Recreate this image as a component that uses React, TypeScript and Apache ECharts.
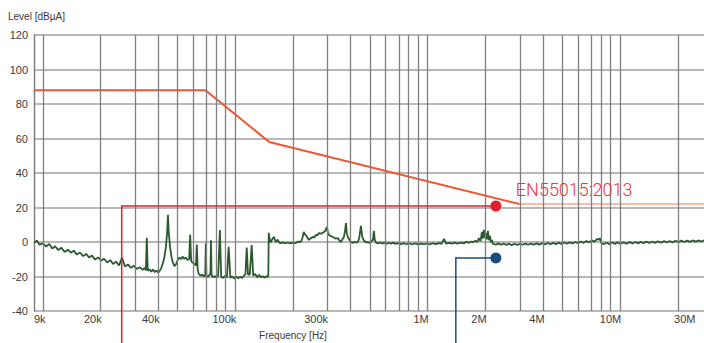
import React, { useEffect, useRef } from "react";
import * as echarts from "echarts";

// ---- data ----
const yMin = -40;
const yMax = 120;
const yStep = 20;
const xMinHz = 9e3;
const xMaxHz = 30e6;

// EN55015 limit (dBµA)
const limitFreqHz = [9e3, 70e3, 150e3, 3e6];
const limitLevel = [88, 88, 58, 22];
const limitTailFreqHz = [3e6, 30e6];
const limitTailLevel = [22, 22];

// vertical grid frequencies
const gridFreqHz = [
  10e3, 20e3, 30e3, 40e3, 50e3, 60e3, 70e3, 80e3, 90e3,
  100e3, 200e3, 300e3, 400e3, 500e3, 600e3, 700e3, 800e3, 900e3,
  1e6, 2e6, 3e6, 4e6, 5e6, 6e6, 7e6, 8e6, 9e6,
  10e6, 20e6, 30e6,
];

// x tick labels
const xLabelText = ["9k", "20k", "40k", "100k", "300k", "1M", "2M", "4M", "10M", "30M"];
const xLabelAnchorHz = [9e3, 20e3, 40e3, 100e3, 300e3, 1e6, 2e6, 4e6, 10e6, 20e6];
const xLabelAlign = ["left", "right", "right", "right", "right", "right", "right", "right", "right", "left"];

// measured trace: frequency (kHz) and level (dBµA)
const traceKHz = [
  9.0, 9.3, 9.6, 10.0, 10.4, 10.8, 11.2, 11.6, 12.0, 12.5, 13.0, 13.5, 14.0, 14.5, 15.0, 15.6,
  16.2, 16.8, 17.4, 18.0, 18.7, 19.4, 20.1, 20.8, 21.6, 22.4, 23.2, 24.0, 24.9, 25.8, 26.7, 27.7,
  28.7, 29.7, 30.8, 31.9, 33.0,
  33.8, 34.3, 34.7, 35.1, 35.8, 36.6, 37.4, 38.2, 39.0, 39.8, 40.6, 41.3, 42.0, 42.8, 43.6, 44.3,
  44.7, 45.1, 45.8, 46.6, 47.4, 48.3, 49.2, 50.2, 51.2, 52.2, 53.2, 54.3, 55.4, 56.5, 57.6, 58.3,
  59.0, 60.0, 61.2, 62.5, 63.1, 63.8, 64.6, 66.0, 67.5, 68.6, 69.8, 70.3, 70.8, 72.0, 73.5, 74.3,
  74.8, 75.3, 76.5, 78.0, 80.0, 81.5, 83.2, 84.5, 86.5, 88.5, 90.5, 92.4, 94.3, 96.5, 99.0, 101,
  103.5, 106, 108.5, 111, 113, 114.7, 116.5, 119, 121.7, 124, 127, 130, 133, 136, 139, 142, 145,
  147.5, 148.5, 149.3,
  151, 153, 156, 158.7, 161, 162.6, 166, 169, 172.6, 177, 182, 187, 193, 199, 205, 212, 219, 223,
  227, 230, 232.8, 237, 241.3, 247, 253, 257, 262, 267, 272, 280, 288.7, 294, 299, 303, 306.5, 314,
  321.5, 331, 341, 347, 354, 360, 367, 372, 375.8, 380, 384.7, 392, 399, 408, 418, 426, 433.6, 441,
  449.6, 457, 465.8, 477, 488.7, 500, 512, 519, 525.3, 531, 538, 552, 566, 580, 595, 610, 626, 644,
  662, 680, 700, 726, 750, 775, 800, 830, 860, 890, 922, 955, 990, 1025, 1060, 1100, 1140, 1180,
  1214, 1245, 1290, 1335, 1380, 1430, 1488, 1540, 1590, 1640, 1677, 1720, 1770, 1810, 1845, 1880,
  1914, 1935, 1959, 1983, 2007, 2030, 2056, 2080, 2105, 2130, 2157, 2180, 2208,
  2260, 2330, 2400, 2480, 2560, 2640, 2730, 2820, 2920, 3020, 3120, 3220, 3330, 3440, 3560, 3680,
  3800, 3930, 4060, 4200, 4340, 4480, 4630, 4790, 4950, 5120, 5290, 5470, 5650, 5840, 6040, 6240,
  6450, 6670, 6890, 7120, 7360, 7600, 7800, 7900, 7980, 8200, 8500, 8800, 9100, 9400, 9700, 10000,
  10400, 10800, 11200, 11600, 12000, 12400, 12800, 13200, 13700, 14200, 14700, 15200, 15700, 16300,
  16900, 17500, 18100, 18700, 19400, 20100, 20800, 21500, 22300, 23000, 23800, 24700, 25500, 26400,
  27300, 28300, 29300, 30000,
];
const traceLevel = [
  -0.5, 0.8, -1.5, -0.8, -2.6, -1.2, -3.8, -2.5, -4.6, -3.4, -5.8, -4.5, -6.2, -5.0, -7.3, -6.1,
  -8.2, -6.9, -9.0, -7.8, -10.2, -8.9, -10.8, -9.7, -11.9, -10.5, -12.8, -11.4, -13.6, -9.0, -14.2, -13.0,
  -15.0, -13.8, -15.6, -14.6, -16.2,
  -15.0, -16.5, 2.5, -16.8, -15.8, -17.2, -16.0, -17.5, -16.4, -17.8, -16.5, -15.0, -12.5, -9.0, -3.0, 6.0,
  15.8, 6.0, -2.5, -8.5, -12.0, -14.0, -13.0, -10.5, -9.0, -10.0, -8.5, -9.8, -9.0, -10.5, -9.8, 4.2,
  -11.0, -12.0, -12.5, -13.8, -1.5, -16.0, -18.5, -19.5, -18.8, -20.0, -19.5, -0.8, -19.5, -20.2, -19.0, -18.5,
  1.0, -19.0, -20.5, -19.8, -20.5, -19.5, 7.0, -20.2, -20.8, -19.6, -20.5, -2.8, -20.8, -20.0, -21.2, -20.0,
  -21.0, -20.2, -20.8, -19.6, -18.5, -3.2, -19.0, -18.8, -1.8, -19.5, -18.5, -20.5, -19.0, -20.5, -19.8, -20.8, -19.8,
  -20.3, -19.0, 5.3,
  1.5, -0.2, 1.8, 3.0, 1.0, 0.0, 1.4, -0.3, -0.6, -0.2, -0.9, -0.3, -0.8, -0.4, -0.7, 0.2, 0.0, 2.0,
  5.8, 4.5, 4.0, 2.6, 1.2, 2.2, 3.0, 2.4, 4.1, 3.8, 5.2, 4.8, 5.8, 6.5, 8.7, 5.5, 4.1, 3.4,
  2.9, 2.0, 2.3, 1.0, 0.0, 1.5, 2.9, 6.5, 11.0, 5.0, 2.9, 1.2, 0.0, -0.5, 0.2, -0.4, 0.0, 2.5,
  9.3, 3.0, 1.0, -0.2, 0.0, -0.6, 0.8, 1.2, 6.4, 1.0, -0.2, -0.8, -0.3, -0.9, -0.4, -1.0, -0.5, -0.9,
  -0.4, -1.1, -0.6, -1.2, -0.7, -1.3, -0.8, -1.3, -0.8, -1.4, -0.9, -1.3, -0.8, -1.4, -0.7, -1.2, -0.6, -1.1,
  1.8, -0.9, -0.5, -1.0, -0.4, -0.9, -0.3, -0.8, 0.2, -0.5, 0.3, -0.2, 0.8, 0.0, 2.3, 0.5,
  5.8, 2.0, 7.0, 2.5, 5.2, 1.5, 6.4, 1.0, 3.5, -0.2, 1.2, -1.0, -1.2,
  -1.5, -0.8, -1.6, -0.9, -1.7, -1.0, -1.8, -1.1, -1.7, -1.0, -1.6, -0.9, -1.6, -0.9, -1.5, -0.8,
  -1.5, -0.7, -1.4, -0.6, -1.3, -0.5, -1.2, -0.4, -1.1, -0.3, -1.0, -0.2, -0.9, 0.0, -0.7, 0.3,
  -0.5, 0.6, -0.2, 0.9, 0.2, 1.8, 1.2, 2.3, -0.6, -1.3, -0.4, -1.2, -0.3, -1.1, -0.2, -1.0,
  -0.2, -1.0, -0.1, -0.9, 0.0, -0.8, 0.1, -0.7, 0.2, -0.6, 0.3, -0.5, 0.4, -0.4,
  0.5, -0.3, 0.6, -0.2, 0.7, -0.1, 0.8, 0.0, 0.8, 0.1, 0.9, 0.2, 0.9, 0.3,
  1.0, 0.3, 1.0, 0.5,
];

// callouts
const redCallout = { freqHz: 2.26e6, level: 20.8, cornerFreqHz: 25.7e3, text: "EN55015:2013" };
const blueCallout = { freqHz: 2.26e6, level: -9.3, cornerFreqHz: 1.4e6 };

const lg = (f: number) => Math.log10(f);

export default function App() {
  const ref = useRef<HTMLDivElement>(null);

  useEffect(() => {
    if (!ref.current) return;
    const chart = echarts.init(ref.current, null, { renderer: "svg" });
    const H = 343;

    const font = "'Liberation Sans', Arial, sans-serif";

    chart.setOption({
      animation: false,
      backgroundColor: "#ffffff",
      grid: { left: 34, right: 0, top: 35, bottom: 32 },
      xAxis: {
        type: "value",
        min: lg(xMinHz),
        max: lg(xMaxHz),
        axisLabel: { show: false },
        axisTick: { show: false },
        axisLine: { show: false },
        splitLine: { show: false },
      },
      yAxis: {
        type: "value",
        min: yMin,
        max: yMax,
        interval: yStep,
        axisLine: { show: true, lineStyle: { color: "#7a7a7a", width: 1.4 } },
        axisTick: { show: false },
        axisLabel: { color: "#3a3a3a", fontSize: 11, fontFamily: font, margin: 6 },
        splitLine: { show: true, lineStyle: { color: "#b8b8b8", width: 2 } },
      },
      series: [
        {
          type: "line",
          data: limitFreqHz.map((f, i) => [lg(f), limitLevel[i]]),
          symbol: "none",
          lineStyle: { color: "#f2552f", width: 2 },
          z: 3,
          markLine: {
            silent: true,
            symbol: ["none", "none"],
            label: { show: false },
            lineStyle: { color: "#7f7f7f", width: 1.3, type: "solid" },
            data: gridFreqHz.map((f) => ({ xAxis: lg(f) })),
          },
        },
        {
          type: "line",
          data: limitTailFreqHz.map((f, i) => [lg(f), limitTailLevel[i]]),
          symbol: "none",
          lineStyle: { color: "#f6a487", width: 1.5 },
          z: 3,
        },
        {
          type: "line",
          data: traceKHz.map((f, i) => [lg(f * 1000), traceLevel[i]]),
          symbol: "none",
          lineStyle: { color: "#2b5a30", width: 1.8 },
          z: 4,
        },
      ],
    });

    const px = (f: number, l: number) =>
      chart.convertToPixel({ gridIndex: 0 }, [lg(f), l]) as number[];

    const bottomY = px(xMinHz, yMin)[1];
    const graphics: any[] = [];

    xLabelText.forEach((t, i) => {
      const p = px(xLabelAnchorHz[i], yMin);
      const align = xLabelAlign[i];
      graphics.push({
        type: "text",
        x: align === "right" ? p[0] + 1 : (i === 0 ? p[0] : p[0] - 4),
        y: bottomY + 8,
        style: {
          text: t,
          fill: "#3a3a3a",
          font: `11px ${font}`,
          align,
          verticalAlign: "middle",
        },
        silent: true,
      });
    });

    graphics.push({
      type: "text",
      x: 293,
      y: 335,
      style: { text: "Frequency [Hz]", fill: "#3a3a3a", font: `10px ${font}`, align: "center", verticalAlign: "middle" },
    });
    graphics.push({
      type: "text",
      x: 8,
      y: 16,
      style: { text: "Level [dBµA]", fill: "#3a3a3a", font: `10px ${font}`, align: "left", verticalAlign: "middle" },
    });

    // red callout
    const rDot = px(redCallout.freqHz, redCallout.level);
    const rCorner = px(redCallout.cornerFreqHz, redCallout.level);
    graphics.push({
      type: "polyline",
      shape: { points: [[rDot[0], rDot[1]], [rCorner[0], rCorner[1]], [rCorner[0], H]] },
      style: { stroke: "#e3202a", lineWidth: 1.5, fill: "none" },
      z: 10,
    });
    graphics.push({
      type: "circle",
      shape: { cx: rDot[0], cy: rDot[1], r: 5.5 },
      style: { fill: "#e3202a" },
      z: 11,
    });
    graphics.push({
      type: "text",
      x: rDot[0] + 20,
      y: rDot[1] - 17,
      style: {
        text: redCallout.text,
        fill: "#ea3440",
        font: `300 18px Roboto, 'Liberation Sans', sans-serif`,
        align: "left",
        verticalAlign: "middle",
      },
      z: 11,
    });

    // blue callout
    const bDot = px(blueCallout.freqHz, blueCallout.level);
    const bCorner = px(blueCallout.cornerFreqHz, blueCallout.level);
    graphics.push({
      type: "polyline",
      shape: { points: [[bDot[0], bDot[1]], [bCorner[0], bCorner[1]], [bCorner[0], H]] },
      style: { stroke: "#1d4a7c", lineWidth: 1.5, fill: "none" },
      z: 10,
    });
    graphics.push({
      type: "circle",
      shape: { cx: bDot[0], cy: bDot[1], r: 5.5 },
      style: { fill: "#1d4a7c" },
      z: 11,
    });

    chart.setOption({ graphic: graphics });

    return () => chart.dispose();
  }, []);

  return (
    <div
      ref={ref}
      style={{ position: "fixed", left: 0, top: 0, width: 712, height: 343 }}
    />
  );
}
